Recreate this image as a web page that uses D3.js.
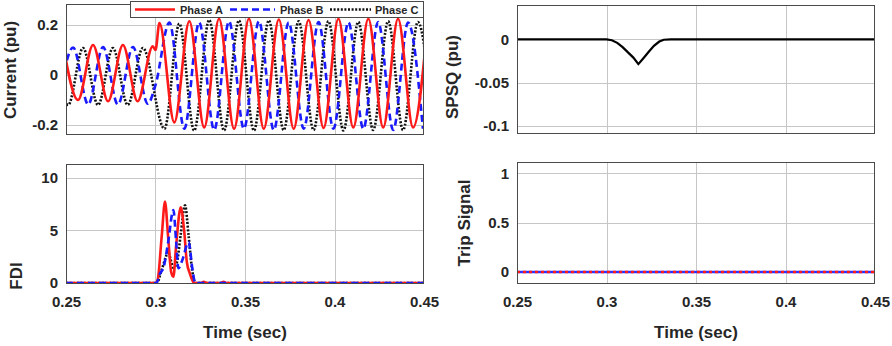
<!DOCTYPE html>
<html>
<head>
<meta charset="utf-8">
<script src="https://cdn.jsdelivr.net/npm/d3@7"></script>
<style>
body{margin:0;background:#fff;}
svg text{font-family:"Liberation Sans",Arial,sans-serif;font-weight:bold;fill:#262626;}
</style>
</head>
<body>
<script>
// ####################################################################################
// Data
var xTicks = [0.25, 0.3, 0.35, 0.4, 0.45]
var xTickLabels = ["0.25", "0.3", "0.35", "0.4", "0.45"]

// Current (pu) - extrema of each phase waveform
var curA_t = [0.2484, 0.2567, 0.2651, 0.2735, 0.2818, 0.2900, 0.2985, 0.3000, 0.3022, 0.3105, 0.3189, 0.3272, 0.3355, 0.3439, 0.3522, 0.3605, 0.3689, 0.3772, 0.3855, 0.3939, 0.4022, 0.4105, 0.4189, 0.4272, 0.4355, 0.4439, 0.4522]
var curA_v = [0.12, -0.10, 0.12, -0.105, 0.12, -0.105, 0.115, 0.10, 0.208, -0.19, 0.215, -0.21, 0.225, -0.215, 0.225, -0.215, 0.222, -0.215, 0.22, -0.212, 0.225, -0.21, 0.225, -0.21, 0.225, -0.21, 0.22]
var curB_t = [0.2457, 0.2540, 0.2624, 0.2707, 0.2790, 0.2874, 0.2957, 0.3000, 0.3078, 0.3161, 0.3244, 0.3328, 0.3411, 0.3494, 0.3578, 0.3661, 0.3744, 0.3828, 0.3911, 0.3994, 0.4078, 0.4161, 0.4244, 0.4328, 0.4411, 0.4494]
var curB_v = [-0.115, 0.11, -0.118, 0.112, -0.118, 0.112, -0.115, -0.04, 0.21, -0.215, 0.21, -0.22, 0.215, -0.215, 0.215, -0.22, 0.21, -0.215, 0.212, -0.215, 0.21, -0.215, 0.212, -0.22, 0.21, -0.215]
var curC_t = [0.2429, 0.2512, 0.2595, 0.2679, 0.2762, 0.2845, 0.2929, 0.3050, 0.3133, 0.3216, 0.3300, 0.3383, 0.3466, 0.3550, 0.3633, 0.3716, 0.3800, 0.3883, 0.3966, 0.4050, 0.4133, 0.4216, 0.4300, 0.4383, 0.4466, 0.4550]
var curC_v = [0.108, -0.12, 0.108, -0.12, 0.108, -0.12, 0.108, -0.215, 0.205, -0.222, 0.22, -0.222, 0.218, -0.222, 0.218, -0.22, 0.215, -0.22, 0.215, -0.222, 0.212, -0.22, 0.215, -0.22, 0.212, -0.22]

// SPSQ (pu)
var spsq_t = [0.25, 0.300, 0.303, 0.306, 0.309, 0.312, 0.315, 0.3178, 0.3205, 0.3235, 0.3265, 0.3295, 0.332, 0.336, 0.45]
var spsq_v = [0, 0, -0.001, -0.004, -0.009, -0.015, -0.021, -0.0285, -0.022, -0.0145, -0.0075, -0.0025, -0.0004, 0, 0]

// FDI
var fdiA_t = [0.25, 0.3000, 0.3012, 0.3035, 0.3053, 0.3070, 0.3088, 0.3100, 0.3115, 0.3141, 0.3160, 0.3175, 0.3192, 0.3205, 0.3215, 0.3255, 0.3270, 0.3285, 0.3365, 0.3380, 0.3395, 0.45]
var fdiA_v = [0, 0, 0.3, 4.5, 7.75, 4.5, 1.0, 0.6, 3.5, 7.2, 5.0, 2.0, 0.9, 0.3, 0, 0, 0.12, 0, 0, 0.12, 0, 0]
var fdiB_t = [0.25, 0.3005, 0.3025, 0.3045, 0.3070, 0.3100, 0.3115, 0.3128, 0.3150, 0.3185, 0.3205, 0.3222, 0.45]
var fdiB_v = [0, 0, 0.9, 1.5, 3.8, 6.95, 4.0, 1.4, 2.2, 3.9, 1.5, 0, 0]
var fdiC_t = [0.25, 0.3008, 0.3030, 0.3060, 0.3070, 0.3085, 0.3100, 0.3120, 0.3140, 0.3165, 0.3185, 0.3205, 0.3222, 0.45]
var fdiC_v = [0, 0, 1.0, 2.6, 3.0, 2.2, 1.45, 2.0, 4.5, 7.4, 4.5, 1.2, 0, 0]

// Trip signal
var trip_t = [0.25, 0.45]
var tripA_v = [0, 0]
var tripB_v = [0, 0]

var legendNames = ["Phase A", "Phase B", "Phase C"]

// ####################################################################################
var svg = d3.select("body").append("svg").attr("width", 892).attr("height", 346)

function zip(t, v){ return t.map((d, i) => ({t: d, v: v[i]})) }

function makePanel(id, box, yDomain, yTicks, yTickLabels, yTitle, yTitlePos, showX){
  var x = d3.scaleLinear().domain([0.25, 0.45]).range([box.x0, box.x1])
  var y = d3.scaleLinear().domain(yDomain).range([box.y1, box.y0])
  var g = svg.append("g").attr("class", "panel_" + id)

  svg.append("clipPath").attr("id", "clip_" + id)
    .append("rect")
      .attr("x", box.x0).attr("y", box.y0)
      .attr("width", box.x1 - box.x0).attr("height", box.y1 - box.y0)

  // grid
  g.selectAll("line.vgrid")
    .data(xTicks.slice(1, -1))
    .join("line")
      .attr("class", "vgrid")
      .attr("x1", d => Math.round(x(d)) + 0.5).attr("x2", d => Math.round(x(d)) + 0.5)
      .attr("y1", box.y0).attr("y2", box.y1)
      .attr("stroke", "#c6c6c6").attr("stroke-width", 1)

  g.selectAll("line.hgrid")
    .data(yTicks)
    .join("line")
      .attr("class", "hgrid")
      .attr("x1", box.x0).attr("x2", box.x1)
      .attr("y1", d => Math.round(y(d)) + 0.5).attr("y2", d => Math.round(y(d)) + 0.5)
      .attr("stroke", "#c6c6c6").attr("stroke-width", 1)

  // y axis
  g.append("g")
    .attr("transform", `translate(${box.x0},0)`)
    .call(d3.axisLeft(y).tickValues(yTicks).tickFormat((d, i) => yTickLabels[i]).tickSize(0).tickPadding(8))
    .call(a => a.select(".domain").remove())
    .selectAll("text")
      .style("font-size", "15px")

  if (showX){
    g.append("g")
      .attr("transform", `translate(0,${box.y1})`)
      .call(d3.axisBottom(x).tickValues(xTicks).tickFormat((d, i) => xTickLabels[i]).tickSize(0).tickPadding(12))
      .call(a => a.select(".domain").remove())
      .selectAll("text")
        .style("font-size", "15px")

    g.append("text")
      .attr("x", (box.x0 + box.x1) / 2)
      .attr("y", 338)
      .attr("text-anchor", "middle")
      .style("font-size", "17px")
      .text("Time (sec)")
  }

  g.append("text")
    .attr("transform", `translate(${yTitlePos[0]},${yTitlePos[1]}) rotate(-90)`)
    .attr("text-anchor", "middle")
    .style("font-size", "17px")
    .text(yTitle)

  var plot = svg.append("g").attr("clip-path", `url(#clip_${id})`)

  return {x: x, y: y, g: g, plot: plot, box: box}
}

function frame(p){
  svg.append("rect")
    .attr("x", p.box.x0 + 0.5).attr("y", p.box.y0 + 0.5)
    .attr("width", p.box.x1 - p.box.x0 - 1).attr("height", p.box.y1 - p.box.y0 - 1)
    .attr("fill", "none").attr("stroke", "#4a4a4a").attr("stroke-width", 1)
}

var styles = {
  A: {stroke: "#ff1a1a", width: 2.6, dash: null},
  B: {stroke: "#1a1aff", width: 2.6, dash: "7,4"},
  C: {stroke: "#111", width: 2.6, dash: "2,1.6"}
}

function drawLine(p, data, st, curve){
  var line = d3.line()
    .x(d => p.x(d.t))
    .y(d => p.y(d.v))
    .curve(curve || d3.curveMonotoneX)
  p.plot.append("path")
    .datum(data)
    .attr("d", line)
    .attr("fill", "none")
    .attr("stroke", st.stroke)
    .attr("stroke-width", st.width)
    .attr("stroke-dasharray", st.dash)
}

// ####################################################################################
// Current panel
var pCur = makePanel("cur", {x0: 66, x1: 424, y0: 4, y1: 135}, [-0.24, 0.284], [-0.2, 0, 0.2], ["-0.2", "0", "0.2"], "Current (pu)", [16, 70], false)
drawLine(pCur, zip(curC_t, curC_v), styles.C)
drawLine(pCur, zip(curB_t, curB_v), styles.B)
drawLine(pCur, zip(curA_t, curA_v), styles.A)
frame(pCur)

// legend
var leg = svg.append("g").attr("class", "legend")
leg.append("rect")
  .attr("x", 130.5).attr("y", 1.5).attr("width", 293).attr("height", 16)
  .attr("fill", "#fff").attr("stroke", "#4a4a4a").attr("stroke-width", 1)

var legItems = [
  {name: legendNames[0], st: styles.A, x0: 135, x1: 175, tx: 180},
  {name: legendNames[1], st: styles.B, x0: 230, x1: 275, tx: 280},
  {name: legendNames[2], st: styles.C, x0: 330, x1: 371, tx: 375}
]
leg.selectAll("line.leg")
  .data(legItems)
  .join("line")
    .attr("class", "leg")
    .attr("x1", d => d.x0).attr("x2", d => d.x1)
    .attr("y1", 9.5).attr("y2", 9.5)
    .attr("stroke", d => d.st.stroke)
    .attr("stroke-width", d => d.st.width)
    .attr("stroke-dasharray", d => d.st.dash)
leg.selectAll("text.leg")
  .data(legItems)
  .join("text")
    .attr("class", "leg")
    .attr("x", d => d.tx).attr("y", 13.5)
    .style("font-size", "11px")
    .text(d => d.name)

// SPSQ panel
var pSp = makePanel("spsq", {x0: 517, x1: 875, y0: 5, y1: 134}, [-0.109, 0.0396], [-0.1, -0.05, 0], ["-0.1", "-0.05", "0"], "SPSQ (pu)", [458, 77], false)
drawLine(pSp, zip(spsq_t, spsq_v), {stroke: "#000", width: 2.2, dash: null}, d3.curveLinear)
frame(pSp)

// FDI panel
var pFdi = makePanel("fdi", {x0: 66, x1: 424, y0: 164, y1: 284}, [-0.095, 11.33], [0, 5, 10], ["0", "5", "10"], "FDI", [22, 276], true)
drawLine(pFdi, zip(fdiC_t, fdiC_v), styles.C)
drawLine(pFdi, zip(fdiA_t, fdiA_v), styles.A)
drawLine(pFdi, zip(fdiB_t, fdiB_v), styles.B)
frame(pFdi)

// Trip panel
var pTrip = makePanel("trip", {x0: 517, x1: 875, y0: 162, y1: 284}, [-0.122, 1.115], [0, 0.5, 1], ["0", "0.5", "1"], "Trip Signal", [470, 223], true)
drawLine(pTrip, zip(trip_t, tripB_v), {stroke: "#3030ff", width: 2.4, dash: null}, d3.curveLinear)
drawLine(pTrip, zip(trip_t, tripA_v), {stroke: "#ff1a1a", width: 2.4, dash: "3,3"}, d3.curveLinear)
frame(pTrip)
</script>
</body>
</html>
